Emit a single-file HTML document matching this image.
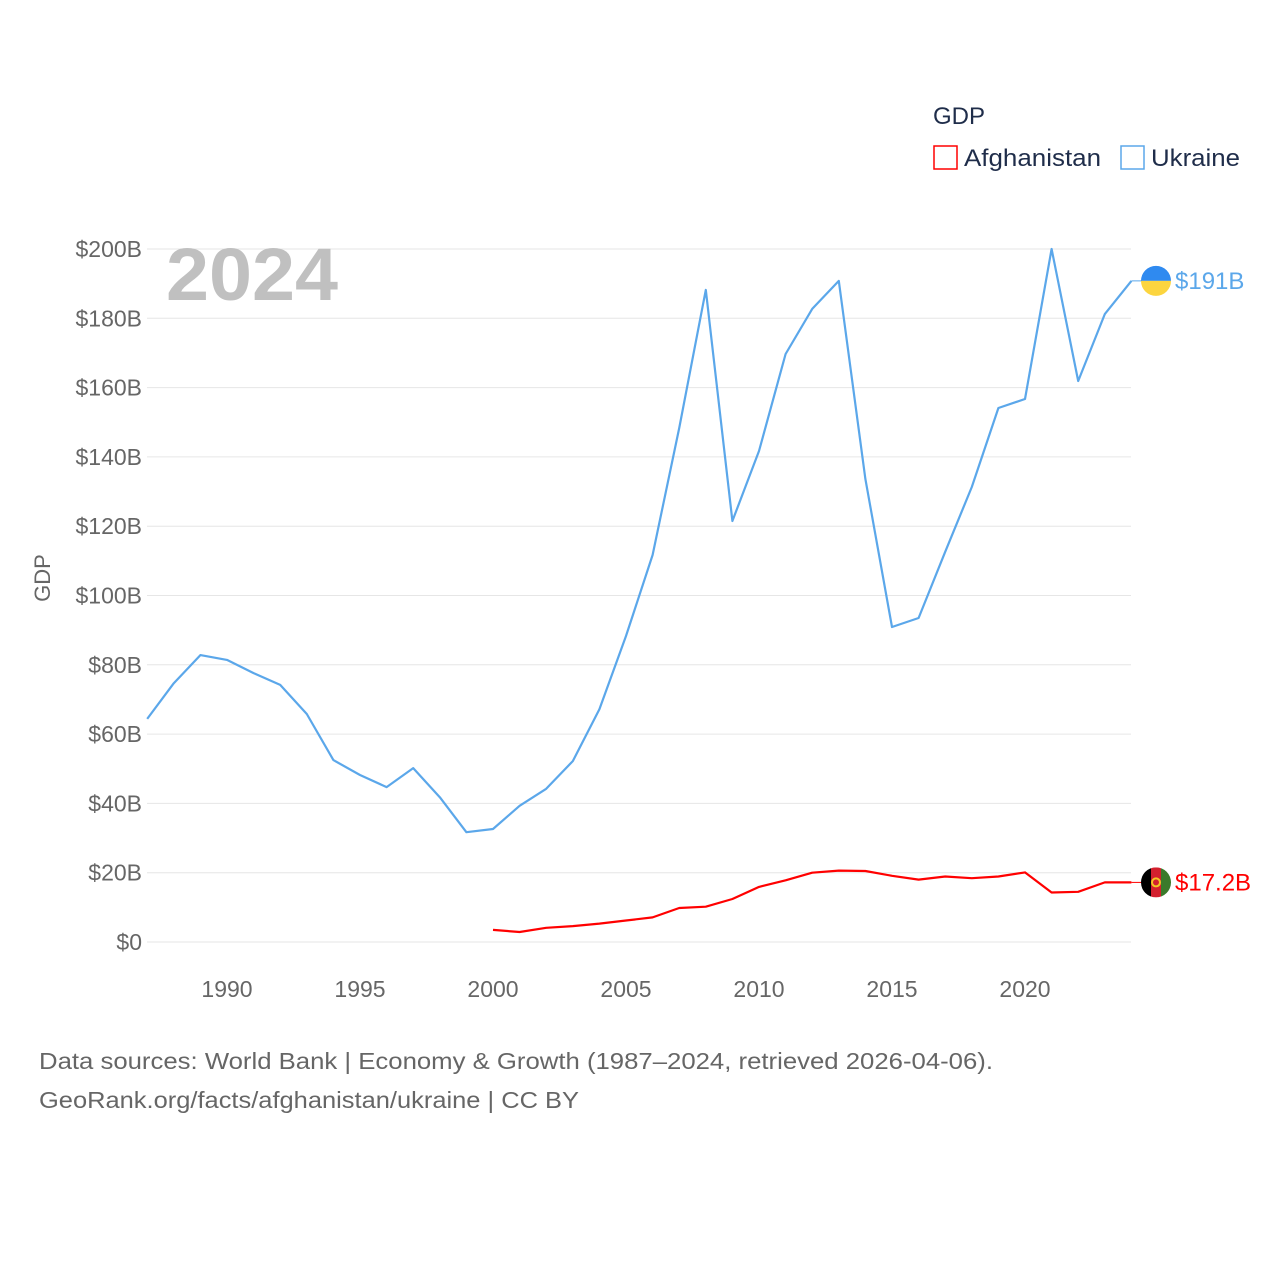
<!DOCTYPE html>
<html><head><meta charset="utf-8"><style>
html,body{margin:0;padding:0;background:#fff;}
svg{display:block;font-family:"Liberation Sans",sans-serif;}
</style></head><body>
<svg id="chart" width="1280" height="1280" viewBox="0 0 1280 1280">
<g id="grid"></g>
<g id="yaxis"></g>
<g id="xaxis"></g>
<text x="166" y="300" font-size="74" font-weight="bold" fill="#c0c0c0" textLength="172" lengthAdjust="spacingAndGlyphs">2024</text>
<text transform="translate(50,578) rotate(-90)" text-anchor="middle" font-size="22" fill="#666">GDP</text>
<g>
<text x="933" y="124" font-size="24" fill="#1f2d4a">GDP</text>
<rect x="934" y="146" width="23" height="23" fill="none" stroke="#f00" stroke-width="1.5"/>
<text x="964" y="166" font-size="24" fill="#1f2d4a" textLength="137" lengthAdjust="spacingAndGlyphs">Afghanistan</text>
<rect x="1121" y="146" width="23" height="23" fill="none" stroke="#5ba7ea" stroke-width="1.5"/>
<text x="1151" y="166" font-size="24" fill="#1f2d4a" textLength="89" lengthAdjust="spacingAndGlyphs">Ukraine</text>
</g>
<g id="series"></g>
<text x="39" y="1069" font-size="23" fill="#666" textLength="954" lengthAdjust="spacingAndGlyphs">Data sources: World Bank | Economy &amp; Growth (1987–2024, retrieved 2026-04-06).</text>
<text x="39" y="1108" font-size="23" fill="#666" textLength="540" lengthAdjust="spacingAndGlyphs">GeoRank.org/facts/afghanistan/ukraine | CC BY</text>
</svg>
<script>
const years=[1987,1988,1989,1990,1991,1992,1993,1994,1995,1996,1997,1998,1999,2000,2001,2002,2003,2004,2005,2006,2007,2008,2009,2010,2011,2012,2013,2014,2015,2016,2017,2018,2019,2020,2021,2022,2023,2024];
const ukraine=[64.4,74.7,82.8,81.4,77.6,74.2,65.8,52.5,48.2,44.7,50.2,41.8,31.7,32.6,39.3,44.2,52.2,67.2,88.3,111.7,148.3,188.2,121.5,141.7,169.7,182.7,190.8,133.6,90.9,93.5,112.6,131.3,154.1,156.7,200,161.9,181.2,190.8];
const afghanistan=[null,null,null,null,null,null,null,null,null,null,null,null,null,3.5,2.9,4.1,4.6,5.3,6.2,7.1,9.8,10.2,12.4,15.9,17.8,20.0,20.6,20.5,19.1,18.0,18.9,18.4,18.9,20.1,14.3,14.5,17.2,17.2];
const yTicks=[0,20,40,60,80,100,120,140,160,180,200];
const yTickLabels=["$0","$20B","$40B","$60B","$80B","$100B","$120B","$140B","$160B","$180B","$200B"];
const xTicks=[1990,1995,2000,2005,2010,2015,2020];
const endLabels=["$191B","$17.2B"];
const NS="http://www.w3.org/2000/svg";
const xs=y=>227+(y-1990)*(1025-227)/30;
const ys=v=>942-v*(942-249)/200;
function mk(t,a,p){const e=document.createElementNS(NS,t);for(const k in a)e.setAttribute(k,a[k]);p.appendChild(e);return e;}
const grid=document.getElementById('grid'),ya=document.getElementById('yaxis'),xa=document.getElementById('xaxis'),ser=document.getElementById('series');
yTicks.forEach((v,i)=>{
 const l=mk('line',{x1:147,x2:1131,y1:ys(v),y2:ys(v),stroke:'#e6e6e6','stroke-width':1},grid);
 
 
 const t=mk('text',{x:142,y:ys(v)+8,'text-anchor':'end','font-size':23,fill:'#666'},ya);
 t.textContent=yTickLabels[i];
 
 
});
xTicks.forEach(y=>{
 const t=mk('text',{x:xs(y),y:997,'text-anchor':'middle','font-size':23,fill:'#666'},xa);
 t.textContent=y;
 
 
});
function line(vals,color,name){
 let d='';vals.forEach((v,i)=>{if(v==null)return;d+=(d?'L':'M')+xs(years[i]).toFixed(1)+','+ys(v).toFixed(1);});
 const p=mk('path',{d:d,fill:'none',stroke:color,'stroke-width':2.2,'stroke-linejoin':'round'},ser);
 
 
}
line(ukraine,'#5ba7ea','line-ukraine');
line(afghanistan,'#f00','line-afghanistan');
const last=years.length-1;
const uy=ys(ukraine[last]),ay=ys(afghanistan[last]);
const lx=xs(years[last]);
mk('line',{x1:lx,x2:1142,y1:uy,y2:uy,stroke:'#5ba7ea','stroke-width':1},ser);
mk('line',{x1:lx,x2:1142,y1:ay,y2:ay,stroke:'#f00','stroke-width':1},ser);
const fu=mk('g',{},ser);


mk('path',{d:`M1141,${uy} a15,15 0 0 1 30,0 z`,fill:'#2f8af0'},fu);
mk('path',{d:`M1141,${uy} a15,15 0 0 0 30,0 z`,fill:'#fcd53f'},fu);
const fa=mk('g',{},ser);


const cp=mk('clipPath',{id:'afc'},fa);mk('circle',{cx:1156,cy:ay,r:15},cp);
const ga=mk('g',{'clip-path':'url(#afc)'},fa);
mk('rect',{x:1141,y:ay-15,width:10,height:30,fill:'#000'},ga);
mk('rect',{x:1151,y:ay-15,width:10,height:30,fill:'#d3202e'},ga);
mk('rect',{x:1161,y:ay-15,width:10,height:30,fill:'#3b7a2b'},ga);
mk('circle',{cx:1156,cy:ay,r:4,fill:'none',stroke:'#f3c623','stroke-width':2},ga);
const t1=mk('text',{x:1175,y:uy+8,'font-size':24,fill:'#5ba7ea'},ser);t1.textContent=endLabels[0];


const t2=mk('text',{x:1175,y:ay+8,'font-size':24,fill:'#f00'},ser);t2.textContent=endLabels[1];


</script>
</body></html>
